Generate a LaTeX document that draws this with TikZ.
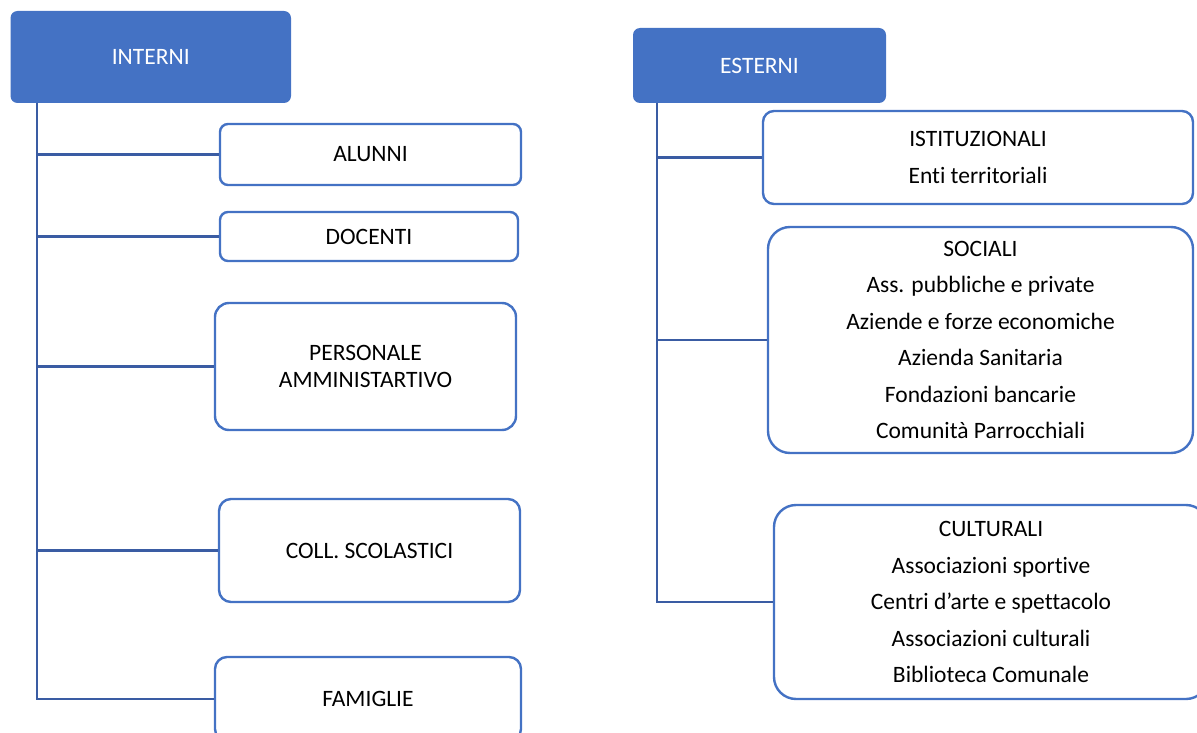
\documentclass[tikz,border=0pt]{standalone}
\usepackage{fontspec}
\setmainfont{Carlito}[Ligatures={NoCommon}]
\definecolor{hdrblue}{HTML}{4472C4}
\definecolor{linkblue}{HTML}{3A5CA3}
\begin{document}
\begin{tikzpicture}[x=1pt,y=-1pt,
  hdr/.style={rectangle, rounded corners=7pt, fill=hdrblue, text=white, inner sep=0pt,
     font=\fontsize{23.5}{36.5}\selectfont},
  sub/.style={rectangle, draw=hdrblue, line width=2.4pt, fill=white, text=black, inner sep=0pt,
     align=center, font=\fontsize{23.5}{36.5}\selectfont},
  conn/.style={draw=linkblue, line width=2.6pt}
]
\useasboundingbox (0,0) rectangle (1197,733);

% headers
\node[hdr, minimum width=280.5pt, minimum height=92pt] (interni) at (150.75,57) {INTERNI};
\node[hdr, minimum width=253pt, minimum height=75pt] (esterni) at (759.5,65.5) {ESTERNI};

% left branch boxes
\node[sub, rounded corners=8pt, minimum width=301pt, minimum height=61pt] (alunni) at (370.5,154.5) {ALUNNI};
\node[sub, rounded corners=8pt, minimum width=298pt, minimum height=49pt] (docenti) at (369,236.5) {DOCENTI};
\node[sub, rounded corners=14pt, minimum width=301pt, minimum height=127pt,
      font=\fontsize{23.5}{27}\selectfont] (personale) at (365.5,366.5) {PERSONALE\\AMMINISTARTIVO};
\node[sub, rounded corners=12pt, minimum width=301pt, minimum height=103pt] (coll) at (369.5,550.5) {COLL. SCOLASTICI};
\node[sub, rounded corners=12pt, minimum width=306pt, minimum height=84pt] (famiglie) at (368,699) {FAMIGLIE};

% right branch boxes
\node[sub, rounded corners=11pt, minimum width=430pt, minimum height=93pt,
      font=\fontsize{23.5}{37}\selectfont] (istituz) at (978,157.5) {ISTITUZIONALI\\Enti territoriali};
\node[sub, rounded corners=22pt, minimum width=425pt, minimum height=226pt] (sociali) at (980.5,340)
  {SOCIALI\\Ass. pubbliche e private\\Aziende e forze economiche\\Azienda Sanitaria\\Fondazioni bancarie\\Comunità Parrocchiali};
\node[sub, rounded corners=22pt, minimum width=434pt, minimum height=194pt] (culturali) at (991,602)
  {CULTURALI\\Associazioni sportive\\Centri d’arte e spettacolo\\Associazioni culturali\\Biblioteca Comunale};

% trunk coordinates
\coordinate (lt) at (37,103);
\coordinate (rt) at (657,103);

% connectors
\draw[conn] (lt) |- (famiglie.west);
\draw[conn] (lt) |- (alunni.west);
\draw[conn] (lt) |- (docenti.west);
\draw[conn] (lt) |- (personale.west);
\draw[conn] (lt) |- (coll.west);

\draw[conn] (rt) |- (culturali.west);
\draw[conn] (rt) |- (istituz.west);
\draw[conn] (rt) |- (sociali.west);
\end{tikzpicture}
\end{document}
